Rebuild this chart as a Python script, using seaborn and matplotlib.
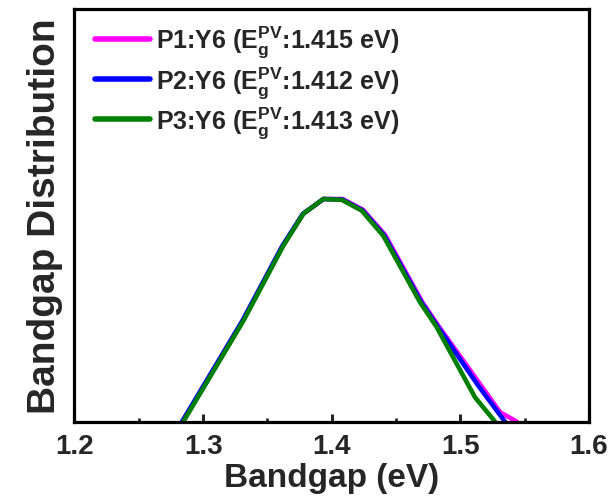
import matplotlib
matplotlib.use("Agg")
import matplotlib.pyplot as plt
import seaborn as sns
import pandas as pd
from matplotlib.ticker import MultipleLocator

# Data (energy in eV, distribution in arbitrary units)
e_p1 = [1.2840, 1.3308, 1.3620, 1.3778, 1.3937, 1.4083, 1.4243, 1.4415, 1.4705, 1.4836, 1.5153, 1.5309, 1.5439]
y_p1 = [0.0, 0.244, 0.426, 0.503, 0.539, 0.539, 0.513, 0.452, 0.289, 0.229, 0.091, 0.023, 0.0]
e_p2 = [1.2836, 1.3305, 1.3617, 1.3776, 1.3935, 1.4080, 1.4238, 1.4408, 1.4697, 1.4827, 1.5140, 1.5347]
y_p2 = [0.0, 0.244, 0.426, 0.503, 0.539, 0.538, 0.512, 0.451, 0.289, 0.229, 0.087, 0.0]
e_p3 = [1.2846, 1.3313, 1.3624, 1.3779, 1.3935, 1.4078, 1.4233, 1.4401, 1.4687, 1.4816, 1.5114, 1.5270]
y_p3 = [0.0, 0.244, 0.426, 0.503, 0.539, 0.537, 0.511, 0.450, 0.289, 0.229, 0.059, 0.0]

labels = [r"P1:Y6 ($\mathbf{E_g^{PV}}$:1.415 eV)",
          r"P2:Y6 ($\mathbf{E_g^{PV}}$:1.412 eV)",
          r"P3:Y6 ($\mathbf{E_g^{PV}}$:1.413 eV)"]
colors = ["#FF00FF", "#0000FF", "#008000"]
x_ticks = [1.2, 1.3, 1.4, 1.5, 1.6]

sns.set_style("ticks")
plt.rcParams["font.family"] = ["Liberation Sans", "DejaVu Sans"]
plt.rcParams["font.weight"] = "bold"
plt.rcParams["mathtext.fontset"] = "custom"
plt.rcParams["mathtext.rm"] = "Liberation Sans:bold"
plt.rcParams["mathtext.bf"] = "Liberation Sans:bold"
plt.rcParams["mathtext.it"] = "Liberation Sans:bold"

df = pd.concat([
    pd.DataFrame({"E": e_p1, "y": y_p1, "s": labels[0]}),
    pd.DataFrame({"E": e_p2, "y": y_p2, "s": labels[1]}),
    pd.DataFrame({"E": e_p3, "y": y_p3, "s": labels[2]}),
], ignore_index=True)

fig = plt.figure(figsize=(6.11, 5.02), dpi=100)
ax = fig.add_axes([0.1219, 0.158, 0.842, 0.823])

sns.lineplot(data=df, x="E", y="y", hue="s", palette=colors, sort=False,
             estimator=None, linewidth=3.3, ax=ax, legend=True)

ax.set_xlim(1.2, 1.6)
ax.set_ylim(0, 1)
ax.set_xticks(x_ticks)
ax.set_xticklabels([f"{t:.1f}" for t in x_ticks], fontsize=20, fontweight="bold")
ax.xaxis.set_minor_locator(MultipleLocator(0.05))
ax.set_yticks([])
ax.tick_params(axis="x", which="major", direction="in", length=6, width=2.2, pad=8)
ax.tick_params(axis="x", which="minor", direction="in", length=3, width=2.0)
for sp in ax.spines.values():
    sp.set_linewidth(2.3)
    sp.set_color("black")

ax.set_xlabel("Bandgap (eV)", fontsize=24, fontweight="bold", labelpad=2)
ax.set_ylabel("Bandgap Distribution", fontsize=28, fontweight="bold", labelpad=8)

leg = ax.legend(loc="upper left", frameon=False, fontsize=18,
                handlelength=2.2, handletextpad=0.25, labelspacing=0.18,
                borderaxespad=0.2, bbox_to_anchor=(0.01, 1.0))
for line in leg.get_lines():
    line.set_linewidth(4)

fig.savefig("out.png", dpi=100)
